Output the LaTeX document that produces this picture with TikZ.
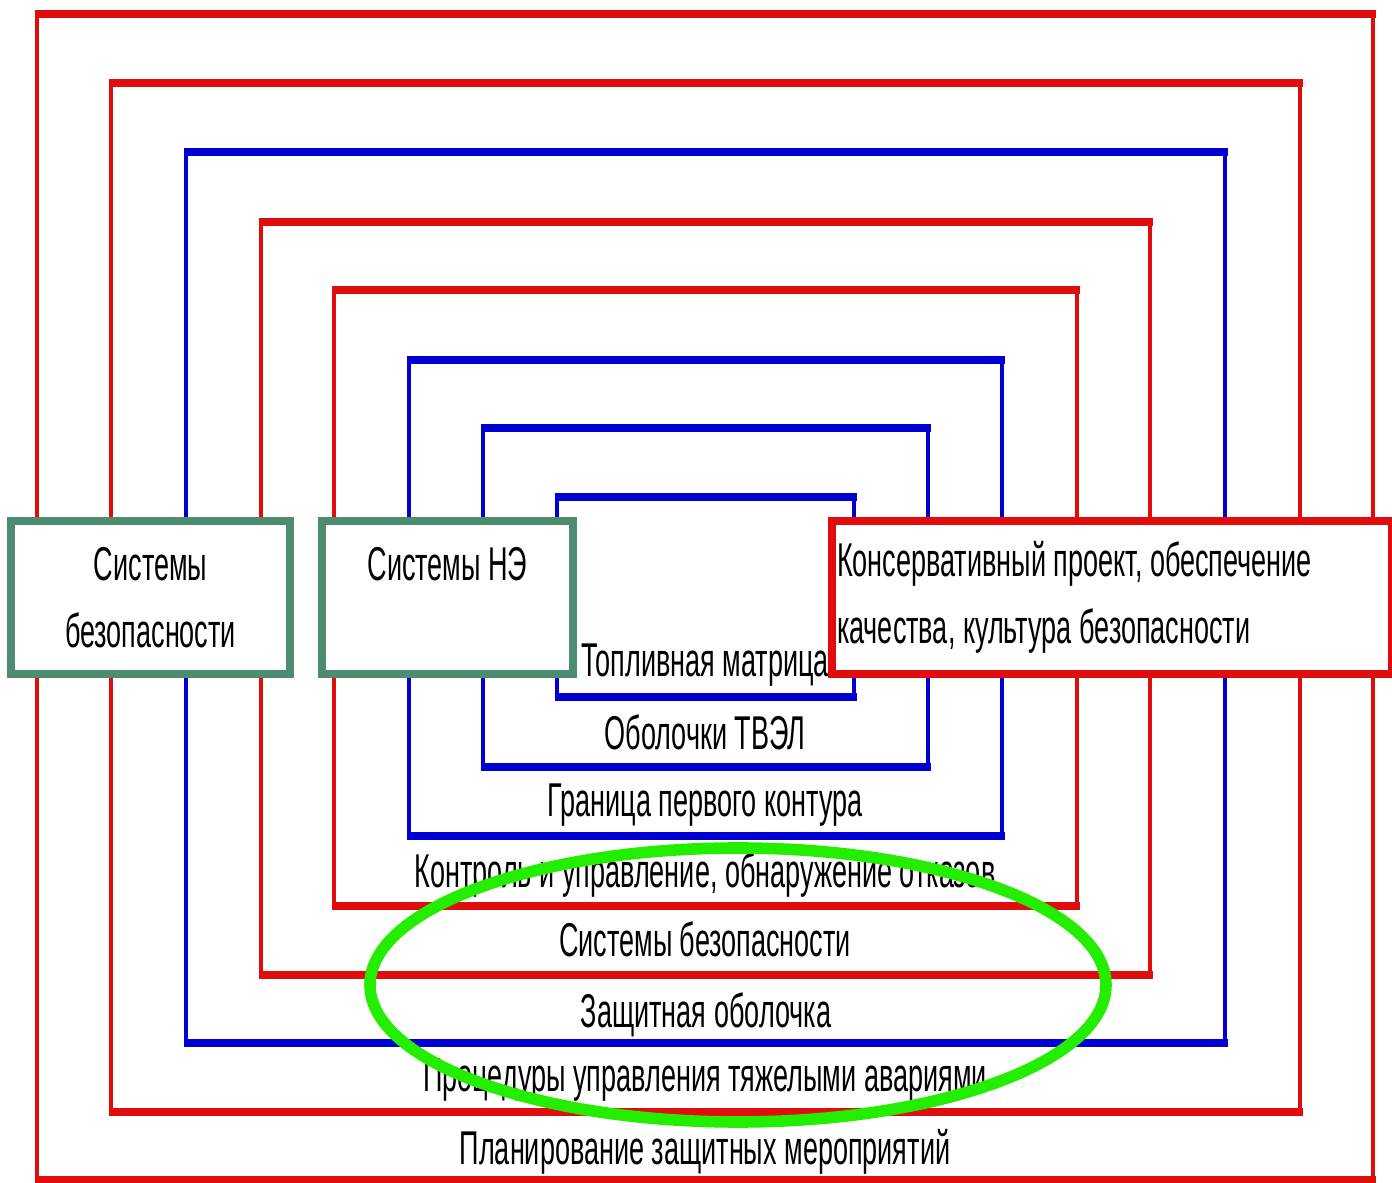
\documentclass[tikz,border=0pt]{standalone}
\usepackage{fontspec}
\setmainfont{Liberation Sans}[FakeStretch=0.57]
\usetikzlibrary{calc}

\definecolor{ramred}{RGB}{225,12,12}
\definecolor{ramblue}{RGB}{0,0,210}
\definecolor{boxgreen}{RGB}{78,140,112}
\definecolor{ovalgreen}{RGB}{36,238,0}

\begin{document}
\begin{tikzpicture}[x=0.1mm,y=-0.1mm,
  every node/.style={font=\fontsize{13.5}{19}\selectfont,inner sep=0pt,outer sep=0pt},
  lbl/.style={anchor=base},
  sysbox/.style={draw=boxgreen,line width=2pt,fill=white,anchor=north west,align=center,
    minimum height=15.3mm}]

\useasboundingbox (0,0) rectangle (1392,1183);

% ramki
\foreach \c/\xa/\ya/\xb/\yb in {ramred/37/14/1373/1180,ramred/111/83/1300/1112,
  ramblue/186/152/1225/1043,ramred/261/222/1150/975,ramred/334/290/1077/906,
  ramblue/409/360/1002/836,ramblue/483/428/928/767,ramblue/557/497/854/697}{
  \draw[color=\c,line width=1.4pt] (\xa,\ya) rectangle (\xb,\yb);
  \draw[color=\c,line width=2.3pt] (\xa-2.5,\ya)--(\xb+2.5,\ya) (\xa-2.5,\yb)--(\xb+2.5,\yb);
}

% boxes
\node[sysbox,minimum width=27.9mm] (sb) at (11,521) {Системы\\безопасности};
\node[sysbox,minimum width=25.1mm] (ne) at (322,521) {Системы НЭ\\\mbox{}};
\node[sysbox,draw=ramred,align=flush left,text width=55mm,inner xsep=0.5mm] (kp) at (832,521)
  {\spaceskip=0pt\mbox{Консервативный проект, обеспечение}\\\mbox{качества, культура безопасности}};

% labels
\node[lbl] (tm) at (705,677) {Топливная матрица};
\node[lbl] (ob) at (705,750) {Оболочки ТВЭЛ};
\node[lbl] (gr) at (705,817) {Граница первого контура};
\node[lbl] (ku) at (705,888) {Контроль и управление, обнаружение отказов};
\node[lbl] (sy) at (705,957) {Системы безопасности};
\node[lbl] (zo) at (706,1028) {Защитная оболочка};
\node[lbl] (pr) at (705,1092) {Процедуры управления тяжелыми авариями};
\node[lbl] (pl) at (705,1165) {Планирование защитных мероприятий};

\draw[ovalgreen,line width=3.3pt] (738,985) ellipse [x radius=368,y radius=137];

\end{tikzpicture}
\end{document}
